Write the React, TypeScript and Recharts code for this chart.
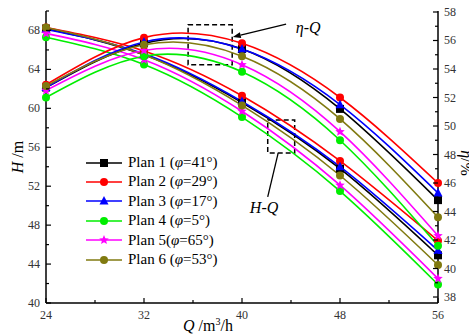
import React from "react";
import {
  Label,
  Legend,
  Line,
  LineChart,
  ReferenceArea,
  ReferenceLine,
  XAxis,
  YAxis,
} from "recharts";

// Q (m3/h)
const flowRates = [24, 32, 40, 48, 56];

// H (m), left axis
const headPlan1 = [68.2, 65.5, 60.6, 53.8, 44.9];
const headPlan2 = [68.3, 65.9, 61.3, 54.6, 46.4];
const headPlan3 = [68.1, 65.6, 60.7, 54.0, 45.4];
const headPlan4 = [67.3, 64.5, 59.1, 51.5, 41.9];
const headPlan5 = [67.7, 65.0, 59.7, 52.1, 42.5];
const headPlan6 = [68.3, 65.5, 60.3, 53.1, 43.9];

// eta (%), right axis
const effPlan1 = [52.7, 55.8, 55.4, 51.2, 44.8];
const effPlan2 = [52.9, 56.2, 55.8, 52.0, 46.0];
const effPlan3 = [52.7, 55.9, 55.4, 51.5, 45.3];
const effPlan4 = [52.0, 54.9, 53.8, 49.0, 41.6];
const effPlan5 = [52.5, 55.3, 54.3, 49.6, 42.3];
const effPlan6 = [52.8, 55.7, 54.9, 50.5, 43.6];

const planNames = ["Plan 1", "Plan 2", "Plan 3", "Plan 4", "Plan 5", "Plan 6"];
const planAngles = ["41", "29", "17", "5", "65", "53"];

const xTicks = [24, 28, 32, 36, 40, 44, 48, 52, 56];
const leftTicks = [40, 42, 44, 46, 48, 50, 52, 54, 56, 58, 60, 62, 64, 66, 68, 70];
const rightTicks = [38, 39, 40, 41, 42, 43, 44, 45, 46, 47, 48, 49, 50, 51, 52, 53, 54, 55, 56, 57, 58];

const SERIF = "'Liberation Serif', 'Times New Roman', serif";
const TICK_COLOR = "#333";

const plans = [
  { color: "#000000", shape: "square", head: headPlan1, eff: effPlan1 },
  { color: "#ff0000", shape: "circle", head: headPlan2, eff: effPlan2 },
  { color: "#0000ff", shape: "triangle", head: headPlan3, eff: effPlan3 },
  { color: "#00ee00", shape: "circle", head: headPlan4, eff: effPlan4 },
  { color: "#ff00ff", shape: "star", head: headPlan5, eff: effPlan5 },
  { color: "#807a10", shape: "circle", head: headPlan6, eff: effPlan6 },
].map((p, i) => ({ ...p, name: planNames[i], angle: planAngles[i], key: i + 1 }));

const data = flowRates.map((q, i) => {
  const row: Record<string, number> = { q };
  plans.forEach((p) => {
    row[`h${p.key}`] = p.head[i];
    row[`e${p.key}`] = p.eff[i];
  });
  return row;
});

function markerShape(shape: string, cx: number, cy: number, color: string, r = 4) {
  if (shape === "square") {
    return <rect x={cx - r} y={cy - r} width={r * 2} height={r * 2} fill={color} />;
  }
  if (shape === "triangle") {
    return (
      <polygon
        points={`${cx},${cy - r - 1} ${cx - r - 0.5},${cy + r - 0.5} ${cx + r + 0.5},${cy + r - 0.5}`}
        fill={color}
      />
    );
  }
  if (shape === "star") {
    const pts: string[] = [];
    for (let k = 0; k < 10; k++) {
      const rad = k % 2 === 0 ? r + 1 : (r + 1) * 0.45;
      const a = -Math.PI / 2 + (k * Math.PI) / 5;
      pts.push(`${cx + rad * Math.cos(a)},${cy + rad * Math.sin(a)}`);
    }
    return <polygon points={pts.join(" ")} fill={color} />;
  }
  return <circle cx={cx} cy={cy} r={r} fill={color} />;
}

const makeDot = (shape: string, color: string) => (props: any) => {
  const { cx, cy, index, dataKey } = props;
  return (
    <g key={`${dataKey}-${index}`}>{markerShape(shape, cx, cy, color)}</g>
  );
};

const LeftTick = ({ x, y, payload }: any) => {
  const major = payload.value % 4 === 0 && payload.value < 70;
  return (
    <g>
      <line x1={x} x2={x + (major ? 5 : 3)} y1={y} y2={y} stroke="#000" strokeWidth={1.2} />
      {major && (
        <text x={x - 6} y={y} dy={4} textAnchor="end" fontSize={12} fontFamily={SERIF} fill={TICK_COLOR}>
          {payload.value}
        </text>
      )}
    </g>
  );
};

const RightTick = ({ x, y, payload }: any) => {
  const major = payload.value % 2 === 0;
  return (
    <g>
      <line x1={x} x2={x - (major ? 5 : 3)} y1={y} y2={y} stroke="#000" strokeWidth={1.2} />
      {major && (
        <text x={x + 6} y={y} dy={4} textAnchor="start" fontSize={12} fontFamily={SERIF} fill={TICK_COLOR}>
          {payload.value}
        </text>
      )}
    </g>
  );
};

const BottomTick = ({ x, y, payload }: any) => {
  const major = payload.value % 8 === 0;
  return (
    <g>
      <line x1={x} x2={x} y1={y} y2={y - (major ? 5 : 3)} stroke="#000" strokeWidth={1.2} />
      {major && (
        <text x={x} y={y + 16} textAnchor="middle" fontSize={12} fontFamily={SERIF} fill={TICK_COLOR}>
          {payload.value}
        </text>
      )}
    </g>
  );
};

const LegendBox = () => (
  <div style={{ fontFamily: SERIF, fontSize: 15, color: "#000", lineHeight: "19.4px" }}>
    {plans.map((p) => (
      <div key={p.key} style={{ display: "flex", alignItems: "center", height: 19.4, whiteSpace: "nowrap" }}>
        <svg width={38} height={12} style={{ marginRight: 4 }}>
          <line x1={0} x2={36} y1={6} y2={6} stroke={p.color} strokeWidth={1.6} />
          {markerShape(p.shape, 18, 6, p.color)}
        </svg>
        <span>
          {p.name}
          {p.key === 5 ? "" : " "}(<i>φ</i>={p.angle}°)
        </span>
      </div>
    ))}
  </div>
);

const arrowShape = (withHead: boolean) => (props: any) => {
  const { x1, y1, x2, y2 } = props;
  const ang = Math.atan2(y2 - y1, x2 - x1);
  const L = 8;
  const W = 3;
  const hx = x2 - L * Math.cos(ang);
  const hy = y2 - L * Math.sin(ang);
  return (
    <g>
      <line x1={x1} y1={y1} x2={withHead ? hx : x2} y2={withHead ? hy : y2} stroke="#000" strokeWidth={1.3} />
      {withHead && (
        <polygon
          points={`${x2},${y2} ${hx + W * Math.sin(ang)},${hy - W * Math.cos(ang)} ${hx - W * Math.sin(ang)},${hy + W * Math.cos(ang)}`}
          fill="#000"
        />
      )}
    </g>
  );
};

export default function App() {
  return (
    <div style={{ position: "absolute", left: 0, top: 0, background: "#fff" }}>
      <LineChart width={469} height={336} data={data} margin={{ top: 11, right: 0, bottom: 0, left: 0 }}>
        <XAxis
          dataKey="q"
          type="number"
          domain={[24, 56]}
          ticks={xTicks}
          interval={0}
          height={33}
          tickSize={0}
          tickMargin={0}
          tick={<BottomTick />}
          axisLine={{ stroke: "#000", strokeWidth: 1.5 }}
        >
          <Label
            content={() => (
              <text x={208} y={331} textAnchor="middle" fontSize={16} fontFamily={SERIF} fill="#000">
                <tspan fontStyle="italic">Q</tspan>
                <tspan> /m</tspan>
                <tspan fontSize={10} dy={-6}>3</tspan>
                <tspan dy={6}>/h</tspan>
              </text>
            )}
          />
        </XAxis>
        <YAxis
          yAxisId="left"
          orientation="left"
          type="number"
          domain={[40, 70]}
          ticks={leftTicks}
          interval={0}
          width={46}
          tickSize={0}
          tickMargin={0}
          tick={<LeftTick />}
          axisLine={{ stroke: "#000", strokeWidth: 1.5 }}
        >
          <Label
            content={() => (
              <text
                x={18}
                y={157}
                transform="rotate(-90 18 157)"
                textAnchor="middle"
                dy={5}
                fontSize={16}
                fontFamily={SERIF}
                fill="#000"
              >
                <tspan fontStyle="italic">H</tspan>
                <tspan> /m</tspan>
              </text>
            )}
          />
        </YAxis>
        <YAxis
          yAxisId="right"
          orientation="right"
          type="number"
          domain={[37.58, 58.07]}
          allowDataOverflow
          ticks={rightTicks}
          interval={0}
          width={31}
          tickSize={0}
          tickMargin={0}
          tick={<RightTick />}
          axisLine={{ stroke: "#000", strokeWidth: 1.5 }}
        >
          <Label
            content={() => (
              <text
                x={466}
                y={163}
                transform="rotate(90 466 163)"
                textAnchor="middle"
                dy={5}
                fontSize={16}
                fontFamily={SERIF}
                fill="#000"
              >
                <tspan fontStyle="italic">η</tspan>
                <tspan>/%</tspan>
              </text>
            )}
          />
        </YAxis>

        {plans.map((p) => (
          <Line
            key={`h${p.key}`}
            yAxisId="left"
            dataKey={`h${p.key}`}
            type="natural"
            stroke={p.color}
            strokeWidth={1.6}
            dot={makeDot(p.shape, p.color)}
            activeDot={false}
            isAnimationActive={false}
            legendType="none"
          />
        ))}
        {plans.map((p) => (
          <Line
            key={`e${p.key}`}
            yAxisId="right"
            dataKey={`e${p.key}`}
            type="natural"
            stroke={p.color}
            strokeWidth={1.6}
            dot={makeDot(p.shape, p.color)}
            activeDot={false}
            isAnimationActive={false}
            legendType="none"
          />
        ))}

        <ReferenceArea
          yAxisId="right"
          x1={35.6}
          x2={39.2}
          y1={54.3}
          y2={57.1}
          fill="none"
          stroke="#000"
          strokeWidth={1.5}
          strokeDasharray="5 3"
          ifOverflow="visible"
        />
        <ReferenceArea
          yAxisId="left"
          x1={42.1}
          x2={44.3}
          y1={55.4}
          y2={58.8}
          fill="none"
          stroke="#000"
          strokeWidth={1.5}
          strokeDasharray="5 3"
          ifOverflow="visible"
        />
        <ReferenceLine
          yAxisId="right"
          segment={[{ x: 43.6, y: 57.15 }, { x: 39.25, y: 56.25 }]}
          shape={arrowShape(true)}
          ifOverflow="visible"
        />
        <ReferenceLine
          yAxisId="left"
          segment={[{ x: 42.95, y: 55.4 }, { x: 42.1, y: 50.9 }]}
          shape={arrowShape(false)}
          ifOverflow="visible"
        />
        <ReferenceLine
          yAxisId="right"
          segment={[{ x: 45.4, y: 56.9 }, { x: 45.5, y: 56.9 }]}
          shape={(props: any) => (
            <text x={props.x1} y={props.y1} dy={5} textAnchor="middle" fontSize={16} fontStyle="italic" fontFamily={SERIF} fill="#000">
              η-Q
            </text>
          )}
          ifOverflow="visible"
        />
        <ReferenceLine
          yAxisId="left"
          segment={[{ x: 41.8, y: 49.8 }, { x: 41.9, y: 49.8 }]}
          shape={(props: any) => (
            <text x={props.x1} y={props.y1} dy={5} textAnchor="middle" fontSize={16} fontStyle="italic" fontFamily={SERIF} fill="#000">
              H-Q
            </text>
          )}
          ifOverflow="visible"
        />

        <Legend
          layout="vertical"
          verticalAlign="middle"
          align="center"
          content={<LegendBox />}
          wrapperStyle={{ left: 86, top: 153, width: 160 }}
        />
      </LineChart>
    </div>
  );
}
